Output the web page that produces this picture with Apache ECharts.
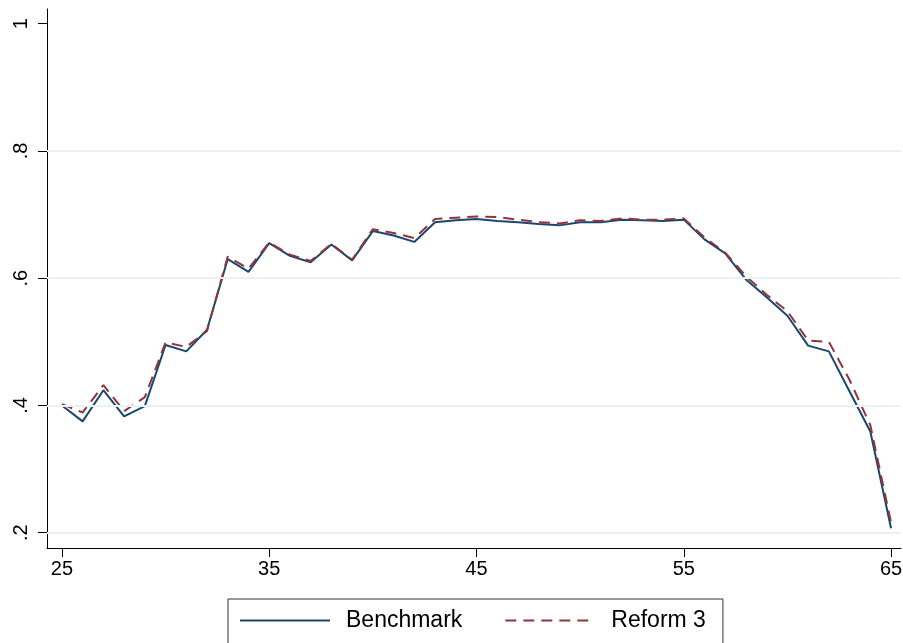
<!DOCTYPE html>
<html>
<head>
<meta charset="utf-8">
<script src="https://cdn.jsdelivr.net/npm/echarts@6/dist/echarts.min.js"></script>
<style>
  html, body { margin: 0; padding: 0; background: #ffffff; }
  #chart { width: 903px; height: 643px; }
</style>
</head>
<body>
<div id="chart"></div>
<script>
// Age profile, ages 25 to 65
const ages = [25, 26, 27, 28, 29, 30, 31, 32, 33, 34, 35, 36, 37, 38, 39, 40, 41, 42, 43, 44, 45,
              46, 47, 48, 49, 50, 51, 52, 53, 54, 55, 56, 57, 58, 59, 60, 61, 62, 63, 64, 65];

const benchmark = [0.400, 0.375, 0.424, 0.383, 0.399, 0.495, 0.485, 0.519, 0.630, 0.610, 0.655,
                   0.635, 0.625, 0.653, 0.628, 0.674, 0.667, 0.657, 0.688, 0.691, 0.693,
                   0.690, 0.688, 0.685, 0.683, 0.688, 0.688, 0.692, 0.691, 0.690, 0.692,
                   0.661, 0.639, 0.598, 0.570, 0.541, 0.494, 0.485, 0.422, 0.359, 0.207];

const reform3 = [0.402, 0.389, 0.432, 0.391, 0.413, 0.499, 0.492, 0.517, 0.634, 0.615, 0.656,
                 0.637, 0.627, 0.654, 0.629, 0.677, 0.671, 0.663, 0.693, 0.695, 0.697,
                 0.696, 0.692, 0.688, 0.686, 0.691, 0.690, 0.694, 0.692, 0.692, 0.694,
                 0.664, 0.640, 0.603, 0.574, 0.548, 0.502, 0.500, 0.440, 0.369, 0.216];

const xTicks = [25, 35, 45, 55, 65];
const yTicks = [0.2, 0.4, 0.6, 0.8, 1];
const yTickLabels = ['.2', '.4', '.6', '.8', '1'];
// horizontal grid lines (none at the top tick)
const yGrid = [0.2, 0.4, 0.6, 0.8];

const seriesNames = ['Benchmark', 'Reform 3'];

const pairs = vals => ages.map((a, i) => [a, vals[i]]);

const FONT = '"Liberation Sans", Arial, Helvetica, sans-serif';

const chart = echarts.init(document.getElementById('chart'), null, { renderer: 'canvas' });

chart.setOption({
  backgroundColor: '#ffffff',
  animation: false,
  textStyle: { fontFamily: FONT },
  grid: {
    left: 47, right: 2, top: 9, bottom: 95,
    containLabel: false,
    outerBoundsMode: 'none'
  },
  legend: {
    data: seriesNames,
    left: 228,
    top: 599,
    orient: 'horizontal',
    itemWidth: 90,
    itemHeight: 20,
    itemGap: 42,
    padding: [10, 17, 24, 11],
    borderColor: '#333333',
    borderWidth: 1,
    itemStyle: { opacity: 0 },
    textStyle: {
      fontFamily: FONT,
      fontSize: 23,
      color: '#000000',
      padding: [0, 0, 0, 11]
    }
  },
  xAxis: {
    type: 'value',
    min: 24.28,
    max: 65.48,
    axisLine: { show: true, onZero: false, lineStyle: { color: '#000000', width: 1 } },
    axisTick: { show: true, length: 9, lineStyle: { color: '#000000', width: 1 }, customValues: xTicks },
    axisLabel: {
      customValues: xTicks,
      margin: 11,
      fontSize: 20,
      fontFamily: FONT,
      color: '#000000'
    },
    splitLine: { show: false }
  },
  yAxis: {
    type: 'value',
    min: 0.176,
    max: 1.023,
    axisLine: { show: true, onZero: false, lineStyle: { color: '#000000', width: 1 } },
    axisTick: { show: true, length: 9, lineStyle: { color: '#000000', width: 1 }, customValues: yTicks },
    axisLabel: {
      customValues: yTicks,
      rotate: 90,
      margin: 16,
      fontSize: 20,
      fontFamily: FONT,
      color: '#000000',
      formatter: v => {
        const idx = yTicks.findIndex(t => Math.abs(t - v) < 1e-9);
        return idx >= 0 ? yTickLabels[idx] : '';
      }
    },
    splitLine: { show: false }
  },
  series: [
    {
      // grid lines only
      type: 'line',
      data: [],
      silent: true,
      z: 1,
      markLine: {
        silent: true,
        symbol: 'none',
        label: { show: false },
        lineStyle: { color: '#e9f1f3', width: 2, type: 'solid' },
        data: yGrid.map(v => ({ yAxis: v }))
      }
    },
    {
      name: seriesNames[0],
      type: 'line',
      data: pairs(benchmark),
      symbol: 'none',
      lineStyle: { color: '#1a476f', width: 2 },
      itemStyle: { color: '#1a476f' },
      z: 2
    },
    {
      name: seriesNames[1],
      type: 'line',
      data: pairs(reform3),
      symbol: 'none',
      lineStyle: { color: '#90353b', width: 2, type: [11, 7] },
      itemStyle: { color: '#90353b' },
      z: 3
    }
  ]
});
</script>
</body>
</html>
